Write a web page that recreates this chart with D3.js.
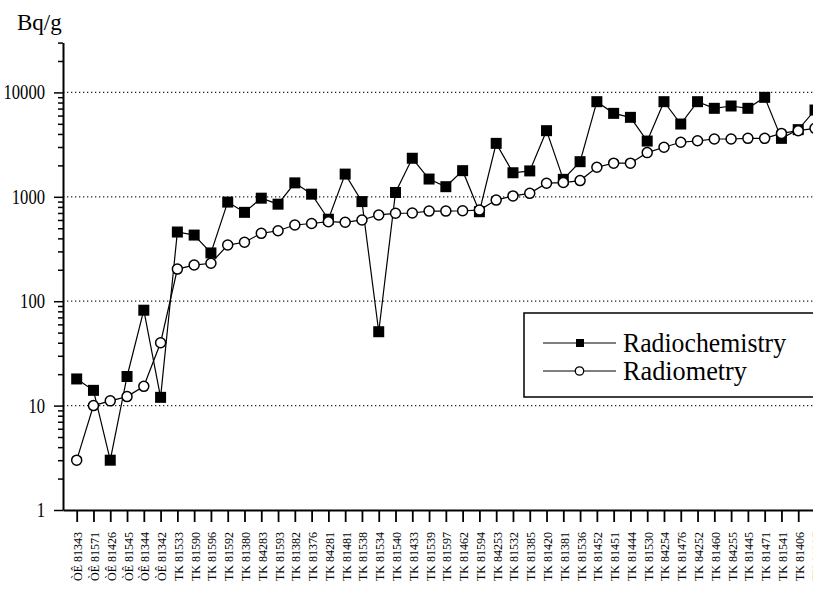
<!DOCTYPE html>
<html>
<head>
<meta charset="utf-8">
<script src="https://cdn.jsdelivr.net/npm/d3@7"></script>
<style>
    body { margin: 0; background: #fff; }
    #chart svg { display: block; }
</style>
</head>
<body>
<div id="chart"></div>
<script>
const categories = [
    'ÒÊ 81343', 'ÒÊ 81571', 'ÒÊ 81426', 'ÒÊ 81545', 'ÒÊ 81344', 'ÒÊ 81342',
    'TK 81533', 'TK 81590', 'TK 81596', 'TK 81592', 'TK 81380', 'TK 84283',
    'TK 81593', 'TK 81382', 'TK 81376', 'TK 84281', 'TK 81481', 'TK 81538',
    'TK 81534', 'TK 81540', 'TK 81433', 'TK 81539', 'TK 81597', 'TK 81462',
    'TK 81594', 'TK 84253', 'TK 81532', 'TK 81385', 'TK 81420', 'TK 81381',
    'TK 81536', 'TK 81452', 'TK 81451', 'TK 81444', 'TK 81530', 'TK 84254',
    'TK 81476', 'TK 84252', 'TK 81460', 'TK 84255', 'TK 81445', 'TK 81471',
    'TK 81541', 'TK 81406', 'TK 81387'
];

const radiochemistry = [
    18, 14, 3, 19, 82, 12,
    460, 430, 290, 890, 710, 970,
    850, 1360, 1060, 610, 1650, 900,
    51, 1100, 2340, 1480, 1250, 1780,
    720, 3250, 1700, 1770, 4300, 1470,
    2170, 8150, 6300, 5770, 3420, 8150,
    4980, 8150, 7040, 7410, 7040, 8970,
    3630, 4400, 6780
];

const radiometry = [
    3, 10, 11.1, 12.2, 15.3, 40,
    203, 222, 231, 345, 367, 447,
    473, 537, 555, 578, 570, 600,
    670, 695, 700, 730, 730, 735,
    747, 930, 1020, 1080, 1350, 1370,
    1430, 1920, 2100, 2100, 2650, 2980,
    3330, 3440, 3580, 3580, 3630, 3630,
    4050, 4300, 4530
];

const yMajorTicks = [1, 10, 100, 1000, 10000];
const gridValues = [10, 100, 1000, 10000];
const seriesNames = ['Radiochemistry', 'Radiometry'];
const yUnit = 'Bq/g';

class LogLineChart {
    constructor(containerId) {
        this.containerId = containerId;
        this.width = 813;
        this.height = 591;
        this.plot = { left: 63, right: 828.7, top: 42.6, bottom: 510 };
        this.font = '"Liberation Serif", "Times New Roman", serif';
        this.svg = null;
        this.x = null;
        this.y = null;
    }

    init() {
        this.setupSVG();
        this.setupScales();
        this.drawGrid();
        this.drawAxes();
        this.drawSeries();
        this.drawLegend();
    }

    setupSVG() {
        const container = d3.select(`#${this.containerId}`);
        container.selectAll('*').remove();
        this.svg = container.append('svg')
            .attr('width', this.width)
            .attr('height', this.height)
            .style('font-family', this.font);
        this.svg.append('rect')
            .attr('width', this.width)
            .attr('height', this.height)
            .attr('fill', '#fff');
    }

    setupScales() {
        // first category sits ~14px right of the y axis, 16.8px apart
        this.x = d3.scalePoint()
            .domain(categories)
            .range([this.plot.left, this.plot.right])
            .padding(0.816);

        this.y = d3.scaleLog()
            .domain([1, 30000])
            .range([this.plot.bottom, this.plot.top]);
    }

    drawGrid() {
        this.svg.append('g')
            .attr('class', 'grid')
            .selectAll('line')
            .data(gridValues)
            .enter()
            .append('line')
            .attr('x1', this.plot.left)
            .attr('x2', this.width)
            .attr('y1', d => this.y(d))
            .attr('y2', d => this.y(d))
            .attr('stroke', '#222')
            .attr('stroke-width', 1.3)
            .attr('stroke-dasharray', '1.3,2.7');
    }

    drawAxes() {
        const minorTicks = this.y.ticks().filter(d => !yMajorTicks.includes(d));

        // minor ticks, no labels
        const yMinor = this.svg.append('g')
            .attr('transform', `translate(${this.plot.left},0)`)
            .call(d3.axisLeft(this.y).tickValues(minorTicks).tickSize(5).tickFormat(''));
        yMinor.select('.domain').remove();
        yMinor.selectAll('line').attr('stroke-width', 1.5);

        const yAxis = this.svg.append('g')
            .attr('transform', `translate(${this.plot.left},0)`)
            .call(d3.axisLeft(this.y)
                .tickValues(yMajorTicks)
                .tickSize(9)
                .tickSizeOuter(0)
                .tickPadding(9)
                .tickFormat(d3.format('d')));
        yAxis.select('.domain').attr('stroke-width', 2);
        yAxis.selectAll('line').attr('stroke-width', 1.5);
        yAxis.selectAll('text')
            .style('font-family', this.font)
            .style('font-size', '20px')
            .attr('fill', '#000')
            .attr('textLength', d => String(d).length * 8.3)
            .attr('lengthAdjust', 'spacingAndGlyphs');

        const xAxis = this.svg.append('g')
            .attr('transform', `translate(0,${this.plot.bottom})`)
            .call(d3.axisBottom(this.x).tickSize(12).tickSizeOuter(0));
        xAxis.select('.domain').attr('stroke-width', 2);
        xAxis.selectAll('line').attr('stroke-width', 1.8);
        xAxis.selectAll('text')
            .style('font-family', this.font)
            .style('font-size', '12px')
            .attr('fill', '#000')
            .attr('text-anchor', 'end')
            .attr('transform', 'rotate(-90)')
            .attr('x', -22)
            .attr('y', 5)
            .attr('dy', 0);

        this.svg.append('text')
            .attr('x', 17)
            .attr('y', 30)
            .style('font-size', '23px')
            .text(yUnit);
    }

    drawSeries() {
        const chemPoints = categories.map((c, i) => ({ cat: c, value: radiochemistry[i] }));
        const metryPoints = categories.map((c, i) => ({ cat: c, value: radiometry[i] }));

        const line = d3.line()
            .x(d => this.x(d.cat))
            .y(d => this.y(d.value));

        [chemPoints, metryPoints].forEach(points => {
            this.svg.append('path')
                .datum(points)
                .attr('d', line)
                .attr('fill', 'none')
                .attr('stroke', '#000')
                .attr('stroke-width', 1.2);
        });

        const s = 11;
        this.svg.append('g')
            .selectAll('rect')
            .data(chemPoints)
            .enter()
            .append('rect')
            .attr('x', d => this.x(d.cat) - s / 2)
            .attr('y', d => this.y(d.value) - s / 2)
            .attr('width', s)
            .attr('height', s)
            .attr('fill', '#000');

        this.svg.append('g')
            .selectAll('circle')
            .data(metryPoints)
            .enter()
            .append('circle')
            .attr('cx', d => this.x(d.cat))
            .attr('cy', d => this.y(d.value))
            .attr('r', 5)
            .attr('fill', '#fff')
            .attr('stroke', '#000')
            .attr('stroke-width', 1.5);
    }

    drawLegend() {
        const legend = this.svg.append('g')
            .attr('class', 'legend')
            .attr('transform', 'translate(524,313)');

        legend.append('rect')
            .attr('width', 300)
            .attr('height', 84)
            .attr('fill', '#fff')
            .attr('stroke', '#000')
            .attr('stroke-width', 1.5);

        const items = legend.selectAll('.legend-item')
            .data(seriesNames)
            .enter()
            .append('g')
            .attr('class', 'legend-item')
            .attr('transform', (d, i) => `translate(0,${30 + i * 28})`);

        items.append('line')
            .attr('x1', 19)
            .attr('x2', 92)
            .attr('stroke', '#000')
            .attr('stroke-width', 1.2);

        items.filter((d, i) => i === 0)
            .append('rect')
            .attr('x', 52)
            .attr('y', -4)
            .attr('width', 8)
            .attr('height', 8)
            .attr('fill', '#000');

        items.filter((d, i) => i === 1)
            .append('circle')
            .attr('cx', 55.5)
            .attr('r', 4.2)
            .attr('fill', '#fff')
            .attr('stroke', '#000')
            .attr('stroke-width', 1.3);

        items.append('text')
            .attr('x', 99)
            .attr('y', 9)
            .style('font-size', '28px')
            .attr('textLength', d => d === 'Radiochemistry' ? 163 : 124)
            .attr('lengthAdjust', 'spacingAndGlyphs')
            .text(d => d);
    }
}

const chart = new LogLineChart('chart');
chart.init();
</script>
</body>
</html>
